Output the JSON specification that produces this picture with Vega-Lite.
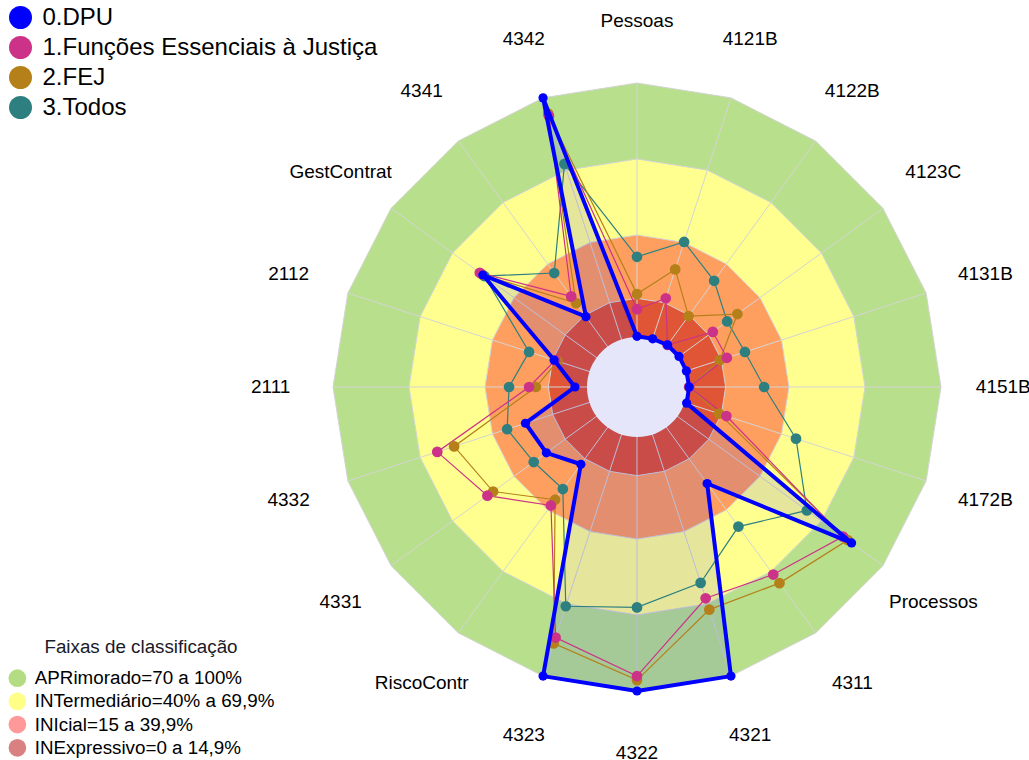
{
  "$schema": "https://vega.github.io/schema/vega-lite/v6.json",
  "width": 1029,
  "height": 760,
  "autosize": {"type": "none"},
  "padding": 0,
  "background": "white",
  "config": {"view": {"stroke": null}, "font": "Liberation Sans"},
  "datasets": {
    "eixos": [
      {"eixo": "Pessoas", "i": 0}, {"eixo": "4121B", "i": 1}, {"eixo": "4122B", "i": 2},
      {"eixo": "4123C", "i": 3}, {"eixo": "4131B", "i": 4}, {"eixo": "4151B", "i": 5},
      {"eixo": "4172B", "i": 6}, {"eixo": "Processos", "i": 7}, {"eixo": "4311", "i": 8},
      {"eixo": "4321", "i": 9}, {"eixo": "4322", "i": 10}, {"eixo": "4323", "i": 11},
      {"eixo": "RiscoContr", "i": 12}, {"eixo": "4331", "i": 13}, {"eixo": "4332", "i": 14},
      {"eixo": "2111", "i": 15}, {"eixo": "2112", "i": 16}, {"eixo": "GestContrat", "i": 17},
      {"eixo": "4341", "i": 18}, {"eixo": "4342", "i": 19}
    ],
    "faixas": [
      {"faixa": "APRimorado=70 a 100%", "lim": 100, "i": [0,1,2,3,4,5,6,7,8,9,10,11,12,13,14,15,16,17,18,19]},
      {"faixa": "INTermediário=40% a 69,9%", "lim": 70, "i": [0,1,2,3,4,5,6,7,8,9,10,11,12,13,14,15,16,17,18,19]},
      {"faixa": "INIcial=15 a 39,9%", "lim": 40, "i": [0,1,2,3,4,5,6,7,8,9,10,11,12,13,14,15,16,17,18,19]},
      {"faixa": "INExpressivo=0 a 14,9%", "lim": 15, "i": [0,1,2,3,4,5,6,7,8,9,10,11,12,13,14,15,16,17,18,19]}
    ],
    "valores": [
      {"serie": "3.Todos", "i": 0, "v": 31.4}, {"serie": "3.Todos", "i": 1, "v": 40.2},
      {"serie": "3.Todos", "i": 2, "v": 31.8}, {"serie": "3.Todos", "i": 3, "v": 24},
      {"serie": "3.Todos", "i": 4, "v": 24.8}, {"serie": "3.Todos", "i": 5, "v": 30.2},
      {"serie": "3.Todos", "i": 6, "v": 46}, {"serie": "3.Todos", "i": 7, "v": 62.9},
      {"serie": "3.Todos", "i": 8, "v": 48.1}, {"serie": "3.Todos", "i": 9, "v": 61.3},
      {"serie": "3.Todos", "i": 10, "v": 67}, {"serie": "3.Todos", "i": 11, "v": 71},
      {"serie": "3.Todos", "i": 12, "v": 29.8}, {"serie": "3.Todos", "i": 13, "v": 30.4},
      {"serie": "3.Todos", "i": 14, "v": 33.9}, {"serie": "3.Todos", "i": 15, "v": 30.5},
      {"serie": "3.Todos", "i": 16, "v": 24.8}, {"serie": "3.Todos", "i": 17, "v": 54.5},
      {"serie": "3.Todos", "i": 18, "v": 35.6}, {"serie": "3.Todos", "i": 19, "v": 72.6},
      {"serie": "2.FEJ", "i": 0, "v": 16.7}, {"serie": "2.FEJ", "i": 1, "v": 28.8},
      {"serie": "2.FEJ", "i": 2, "v": 14.6}, {"serie": "2.FEJ", "i": 3, "v": 29},
      {"serie": "2.FEJ", "i": 4, "v": 14.4}, {"serie": "2.FEJ", "i": 5, "v": 0.6},
      {"serie": "2.FEJ", "i": 6, "v": 14.1}, {"serie": "2.FEJ", "i": 7, "v": 82.8},
      {"serie": "2.FEJ", "i": 8, "v": 75.7}, {"serie": "2.FEJ", "i": 9, "v": 72.4},
      {"serie": "2.FEJ", "i": 10, "v": 95.7}, {"serie": "2.FEJ", "i": 11, "v": 86.4},
      {"serie": "2.FEJ", "i": 12, "v": 35}, {"serie": "2.FEJ", "i": 13, "v": 50.2},
      {"serie": "2.FEJ", "i": 14, "v": 55.9}, {"serie": "2.FEJ", "i": 15, "v": 19.9},
      {"serie": "2.FEJ", "i": 16, "v": 13}, {"serie": "2.FEJ", "i": 17, "v": 55.5},
      {"serie": "2.FEJ", "i": 18, "v": 20.9}, {"serie": "2.FEJ", "i": 19, "v": 93.5},
      {"serie": "1.Funções Essenciais à Justiça", "i": 0, "v": 10.7}, {"serie": "1.Funções Essenciais à Justiça", "i": 1, "v": 16.8},
      {"serie": "1.Funções Essenciais à Justiça", "i": 2, "v": 0.5}, {"serie": "1.Funções Essenciais à Justiça", "i": 3, "v": 17},
      {"serie": "1.Funções Essenciais à Justiça", "i": 4, "v": 17.3}, {"serie": "1.Funções Essenciais à Justiça", "i": 5, "v": 0.6},
      {"serie": "1.Funções Essenciais à Justiça", "i": 6, "v": 17.1}, {"serie": "1.Funções Essenciais à Justiça", "i": 7, "v": 80.5},
      {"serie": "1.Funções Essenciais à Justiça", "i": 8, "v": 71.5}, {"serie": "1.Funções Essenciais à Justiça", "i": 9, "v": 67.7},
      {"serie": "1.Funções Essenciais à Justiça", "i": 10, "v": 94.1}, {"serie": "1.Funções Essenciais à Justiça", "i": 11, "v": 84},
      {"serie": "1.Funções Essenciais à Justiça", "i": 12, "v": 37.8}, {"serie": "1.Funções Essenciais à Justiça", "i": 13, "v": 53},
      {"serie": "1.Funções Essenciais à Justiça", "i": 14, "v": 62.9}, {"serie": "1.Funções Essenciais à Justiça", "i": 15, "v": 22.6},
      {"serie": "1.Funções Essenciais à Justiça", "i": 16, "v": 14}, {"serie": "1.Funções Essenciais à Justiça", "i": 17, "v": 56.7},
      {"serie": "1.Funções Essenciais à Justiça", "i": 18, "v": 24.2}, {"serie": "1.Funções Essenciais à Justiça", "i": 19, "v": 92.5},
      {"serie": "0.DPU", "i": 0, "v": 0}, {"serie": "0.DPU", "i": 1, "v": 0},
      {"serie": "0.DPU", "i": 2, "v": 0.5}, {"serie": "0.DPU", "i": 3, "v": 0.5},
      {"serie": "0.DPU", "i": 4, "v": 0.5}, {"serie": "0.DPU", "i": 5, "v": 0.6},
      {"serie": "0.DPU", "i": 6, "v": 0.6}, {"serie": "0.DPU", "i": 7, "v": 84.7},
      {"serie": "0.DPU", "i": 8, "v": 27.1}, {"serie": "0.DPU", "i": 9, "v": 100},
      {"serie": "0.DPU", "i": 10, "v": 100}, {"serie": "0.DPU", "i": 11, "v": 100},
      {"serie": "0.DPU", "i": 12, "v": 17.7}, {"serie": "0.DPU", "i": 13, "v": 24.2},
      {"serie": "0.DPU", "i": 14, "v": 26.3}, {"serie": "0.DPU", "i": 15, "v": 4.5},
      {"serie": "0.DPU", "i": 16, "v": 14.4}, {"serie": "0.DPU", "i": 17, "v": 55.2},
      {"serie": "0.DPU", "i": 18, "v": 14.3}, {"serie": "0.DPU", "i": 19, "v": 100}
    ]
  },
  "encoding": {
    "x": {"field": "x", "type": "quantitative", "scale": {"domain": [-251.45, 154.74], "nice": false, "zero": false}, "axis": null},
    "y": {"field": "y", "type": "quantitative", "scale": {"domain": [-147.24, 152.76], "nice": false, "zero": false}, "axis": null}
  },
  "layer": [
    {
      "data": {"name": "faixas"},
      "transform": [
        {"filter": "datum.lim == 100"},
        {"flatten": ["i"]},
        {"calculate": "(datum.lim + 20) * sin(datum.i * PI / 10)", "as": "x"},
        {"calculate": "(datum.lim + 20) * cos(datum.i * PI / 10)", "as": "y"}
      ],
      "mark": {"type": "line", "interpolate": "linear-closed", "fill": "#b8e08c", "stroke": "#d4d4d4", "strokeWidth": 1},
      "encoding": {"order": {"field": "i", "type": "quantitative"}}
    },
    {
      "data": {"name": "faixas"},
      "transform": [
        {"filter": "datum.lim == 70"},
        {"flatten": ["i"]},
        {"calculate": "(datum.lim + 20) * sin(datum.i * PI / 10)", "as": "x"},
        {"calculate": "(datum.lim + 20) * cos(datum.i * PI / 10)", "as": "y"}
      ],
      "mark": {"type": "line", "interpolate": "linear-closed", "fill": "#ffff90", "stroke": "#d4d4d4", "strokeWidth": 1},
      "encoding": {"order": {"field": "i", "type": "quantitative"}}
    },
    {
      "data": {"name": "faixas"},
      "transform": [
        {"filter": "datum.lim == 40"},
        {"flatten": ["i"]},
        {"calculate": "(datum.lim + 20) * sin(datum.i * PI / 10)", "as": "x"},
        {"calculate": "(datum.lim + 20) * cos(datum.i * PI / 10)", "as": "y"}
      ],
      "mark": {"type": "line", "interpolate": "linear-closed", "fill": "#fe9f60", "stroke": "#d4d4d4", "strokeWidth": 1},
      "encoding": {"order": {"field": "i", "type": "quantitative"}}
    },
    {
      "data": {"name": "faixas"},
      "transform": [
        {"filter": "datum.lim == 15"},
        {"flatten": ["i"]},
        {"calculate": "(datum.lim + 20) * sin(datum.i * PI / 10)", "as": "x"},
        {"calculate": "(datum.lim + 20) * cos(datum.i * PI / 10)", "as": "y"}
      ],
      "mark": {"type": "line", "interpolate": "linear-closed", "fill": "#e05535", "stroke": "#d4d4d4", "strokeWidth": 1},
      "encoding": {"order": {"field": "i", "type": "quantitative"}}
    },
    {
      "data": {"name": "eixos"},
      "transform": [
        {"calculate": "0", "as": "x"},
        {"calculate": "0", "as": "y"},
        {"calculate": "120 * sin(datum.i * PI / 10)", "as": "x2"},
        {"calculate": "120 * cos(datum.i * PI / 10)", "as": "y2"}
      ],
      "mark": {"type": "rule", "color": "#d4d4d4", "strokeWidth": 1},
      "encoding": {
        "x2": {"field": "x2"},
        "y2": {"field": "y2"}
      }
    },
    {
      "data": {"name": "valores"},
      "transform": [
        {"filter": "datum.serie == '0.DPU'"},
        {"calculate": "(datum.v + 20) * sin(datum.i * PI / 10)", "as": "x"},
        {"calculate": "(datum.v + 20) * cos(datum.i * PI / 10)", "as": "y"}
      ],
      "mark": {"type": "line", "interpolate": "linear-closed", "fill": "#0000ff", "fillOpacity": 0.1, "strokeOpacity": 0},
      "encoding": {"order": {"field": "i", "type": "quantitative"}}
    },
    {
      "data": {"values": [{"centro": "furo"}]},
      "transform": [
        {"calculate": "0", "as": "x"},
        {"calculate": "0", "as": "y"}
      ],
      "mark": {"type": "point", "shape": "circle", "filled": true, "size": 10000, "color": "#e6e6fa", "opacity": 1, "strokeWidth": 0}
    },
    {
      "data": {"name": "valores"},
      "transform": [
        {"filter": "datum.serie != '0.DPU'"},
        {"calculate": "(datum.v + 20) * sin(datum.i * PI / 10)", "as": "x"},
        {"calculate": "(datum.v + 20) * cos(datum.i * PI / 10)", "as": "y"}
      ],
      "mark": {"type": "line", "interpolate": "linear-closed", "strokeWidth": 1.2},
      "encoding": {
        "stroke": {"field": "serie", "type": "nominal", "scale": {"domain": ["3.Todos", "2.FEJ", "1.Funções Essenciais à Justiça", "0.DPU"], "range": ["#2e8080", "#b5801a", "#cc3388", "#0000ff"]}, "legend": null},
        "detail": {"field": "serie"},
        "order": {"field": "i", "type": "quantitative"}
      }
    },
    {
      "data": {"name": "valores"},
      "transform": [
        {"filter": "datum.serie != '0.DPU'"},
        {"calculate": "(datum.v + 20) * sin(datum.i * PI / 10)", "as": "x"},
        {"calculate": "(datum.v + 20) * cos(datum.i * PI / 10)", "as": "y"}
      ],
      "mark": {"type": "point", "shape": "circle", "filled": true, "size": 115, "opacity": 1, "strokeWidth": 0},
      "encoding": {
        "color": {"field": "serie", "type": "nominal", "scale": {"domain": ["0.DPU", "1.Funções Essenciais à Justiça", "2.FEJ", "3.Todos"], "range": ["#0000ff", "#cc3388", "#b5801a", "#2e8080"]},
          "legend": {"orient": "none", "legendX": 8.5, "legendY": 5.5, "title": null, "labelFontSize": 24, "labelFont": "Liberation Sans", "labelColor": "black", "labelLimit": 600, "symbolSize": 529, "symbolType": "circle", "symbolStrokeWidth": 0, "rowPadding": 6, "labelOffset": 10, "padding": 0}}
      }
    },
    {
      "data": {"name": "valores"},
      "transform": [
        {"filter": "datum.serie == '0.DPU'"},
        {"calculate": "(datum.v + 20) * sin(datum.i * PI / 10)", "as": "x"},
        {"calculate": "(datum.v + 20) * cos(datum.i * PI / 10)", "as": "y"}
      ],
      "mark": {"type": "line", "interpolate": "linear-closed", "strokeWidth": 4, "strokeJoin": "round"},
      "encoding": {
        "stroke": {"field": "serie", "type": "nominal", "scale": {"domain": ["3.Todos", "2.FEJ", "1.Funções Essenciais à Justiça", "0.DPU"], "range": ["#2e8080", "#b5801a", "#cc3388", "#0000ff"]}, "legend": null},
        "order": {"field": "i", "type": "quantitative"}
      }
    },
    {
      "data": {"name": "valores"},
      "transform": [
        {"filter": "datum.serie == '0.DPU'"},
        {"calculate": "(datum.v + 20) * sin(datum.i * PI / 10)", "as": "x"},
        {"calculate": "(datum.v + 20) * cos(datum.i * PI / 10)", "as": "y"}
      ],
      "mark": {"type": "point", "shape": "circle", "filled": true, "size": 85, "opacity": 1, "strokeWidth": 0},
      "encoding": {
        "color": {"field": "serie", "type": "nominal", "scale": {"domain": ["0.DPU", "1.Funções Essenciais à Justiça", "2.FEJ", "3.Todos"], "range": ["#0000ff", "#cc3388", "#b5801a", "#2e8080"]},
          "legend": {"orient": "none", "legendX": 8.5, "legendY": 5.5, "title": null, "labelFontSize": 24, "labelFont": "Liberation Sans", "labelColor": "black", "labelLimit": 600, "symbolSize": 529, "symbolType": "circle", "symbolStrokeWidth": 0, "rowPadding": 6, "labelOffset": 10, "padding": 0}}
      }
    },
    {
      "data": {"name": "eixos"},
      "transform": [
        {"calculate": "144.6 * sin(datum.i * PI / 10)", "as": "x"},
        {"calculate": "144.6 * cos(datum.i * PI / 10)", "as": "y"}
      ],
      "mark": {"type": "text", "fontSize": 19, "font": "Liberation Sans", "color": "black", "align": "center", "baseline": "middle"},
      "encoding": {"text": {"field": "eixo"}}
    },
    {
      "data": {"name": "faixas"},
      "transform": [
        {"calculate": "0", "as": "x"},
        {"calculate": "0", "as": "y"}
      ],
      "mark": {"type": "point", "shape": "circle", "filled": true, "opacity": 0, "size": 10},
      "encoding": {
        "fill": {"field": "faixa", "type": "nominal",
          "scale": {"domain": ["APRimorado=70 a 100%", "INTermediário=40% a 69,9%", "INIcial=15 a 39,9%", "INExpressivo=0 a 14,9%"], "range": ["#b4dc82", "#ffff88", "#ff9999", "#d98080"]},
          "legend": {"orient": "none", "legendX": 8, "legendY": 638, "title": "Faixas de classificação", "titleFontSize": 18.8, "titleFontWeight": "normal", "titleFont": "Liberation Sans", "titleColor": "#1a1a2a", "titleAnchor": "middle", "titleLimit": 600, "titlePadding": 12, "labelFontSize": 18.8, "labelFont": "Liberation Sans", "labelColor": "black", "labelLimit": 600, "symbolSize": 313, "symbolType": "circle", "symbolStrokeWidth": 0, "rowPadding": 3.2, "labelOffset": 8, "padding": 0}}
      }
    }
  ]
}
